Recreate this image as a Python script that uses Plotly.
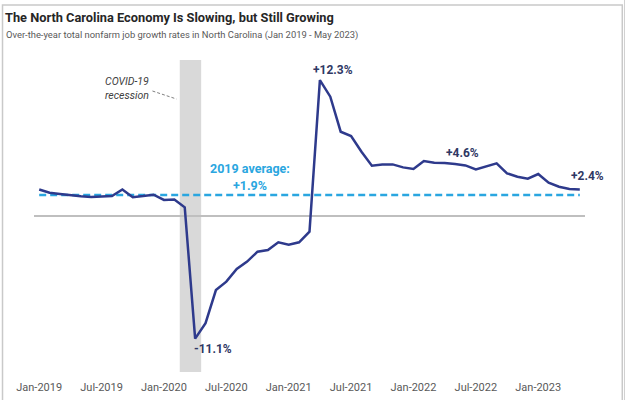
import pandas as pd
import plotly.graph_objects as go

# ---------------- data ----------------
months = list(pd.date_range("2019-01-01", "2023-05-01", freq="MS").strftime("%b-%Y"))
job_growth = [
    2.4, 2.1, 2.0, 1.87, 1.78, 1.72, 1.78, 1.8, 2.4, 1.7, 1.8, 1.93,      # 2019
    1.45, 1.5, 0.78, -11.1, -9.7, -6.7, -5.94, -4.8, -4.13, -3.23, -3.08, -2.38,  # 2020
    -2.6, -2.38, -1.42, 12.3, 10.8, 7.63, 7.24, 5.82, 4.55, 4.67, 4.67, 4.4,   # 2021
    4.25, 4.98, 4.83, 4.8, 4.7, 4.58, 4.22, 4.52, 4.77, 3.86, 3.56, 3.38,      # 2022
    3.8, 3.02, 2.65, 2.44, 2.4,                                            # 2023
]
avg_2019 = 1.9
tick_idx = list(range(0, 48 + 1, 6))
tick_labels = [months[i] for i in tick_idx]
recession_start, recession_end = 13.52, 15.58   # category positions (mid Feb 2020 - mid Apr 2020)
callouts = [  # (index, text, xshift, yshift)
    (27, "+12.3%", 13, 10),
    (15, "-11.1%", 18, -10),
    (41, "+4.6%", -3, 12),
    (52, "+2.4%", 8, 13),
]

# ---------------- layout geometry ----------------
W, H = 625, 400
L, R, T, B = 33.5, 584.7, 60, 372
def px(xp):
    return (xp - L) / (R - L)
def py(yp):
    return (B - yp) / (B - T)

FONT = "Roboto, Arial, sans-serif"
NAVY = "#2E3A8C"
LBLUE = "#2AA6E0"
LABEL = "#2F3864"

fig = go.Figure()
fig.add_trace(go.Scatter(x=months, y=[avg_2019] * len(months), mode="lines",
                         line=dict(color=LBLUE, width=2.5, dash="7px,4px"),
                         hoverinfo="skip", showlegend=False))
fig.add_trace(go.Scatter(x=months, y=job_growth, mode="lines",
                         line=dict(color=NAVY, width=2.5), showlegend=False))

shapes = [
    dict(type="rect", xref="x", yref="paper", x0=recession_start, x1=recession_end,
         y0=0, y1=1, fillcolor="#D9D9D9", line=dict(width=0), layer="below"),
    # chart frame
    dict(type="rect", xref="paper", yref="paper", x0=px(2), x1=px(622), y0=py(5), y1=py(410),
         line=dict(color="#C9C9C9", width=1.5), fillcolor="rgba(0,0,0,0)"),
    dict(type="line", xref="paper", yref="paper", x0=px(624.5), x1=px(624.5), y0=py(0), y1=py(410),
         line=dict(color="#D0D0D0", width=1.5)),
    # leader line for recession note
    dict(type="line", xref="paper", yref="paper", x0=px(152), y0=py(91), x1=px(176), y1=py(99),
         line=dict(color="#7F7F7F", width=1, dash="3px,2px")),
]

annotations = [
    dict(xref="paper", yref="paper", x=px(2), y=py(17), xanchor="left", yanchor="middle",
         text="<b>The North Carolina Economy Is Slowing, but Still Growing</b>", showarrow=False,
         font=dict(family=FONT, size=12.8, color="#262626")),
    dict(xref="paper", yref="paper", x=px(3), y=py(35), xanchor="left", yanchor="middle",
         text="Over-the-year total nonfarm job growth rates in North Carolina (Jan 2019 - May 2023)",
         showarrow=False, font=dict(family=FONT, size=9.4, color="#595959")),
    dict(xref="paper", yref="paper", x=px(127), y=py(88.5), xanchor="center", yanchor="middle",
         text="<i>COVID-19<br>recession</i>", showarrow=False,
         font=dict(family=FONT, size=10.5, color="#404040")),
    dict(xref="paper", yref="paper", x=px(250), y=py(168), xanchor="center", yanchor="middle",
         text="<b>2019 average:</b>", showarrow=False,
         font=dict(family=FONT, size=12.5, color=LBLUE)),
    dict(xref="paper", yref="paper", x=px(250), y=py(185), xanchor="center", yanchor="middle",
         text="<b>+1.9%</b>", showarrow=False,
         font=dict(family=FONT, size=12.5, color=LBLUE)),
]
for i, txt, xs, ys in callouts:
    annotations.append(dict(x=months[i], y=job_growth[i], xref="x", yref="y", text="<b>%s</b>" % txt,
                            showarrow=False, xshift=xs, yshift=ys, xanchor="center", yanchor="middle",
                            font=dict(family=FONT, size=12, color=LABEL)))

fig.update_layout(
    width=W, height=H,
    margin=dict(l=L, r=W - R, t=T, b=H - B, pad=0, autoexpand=False),
    paper_bgcolor="white", plot_bgcolor="white",
    font=dict(family=FONT),
    shapes=shapes, annotations=annotations,
    xaxis=dict(type="category", range=[-0.5, len(months) - 0.5], showgrid=False, showline=False,
               zeroline=False, tickmode="array", tickvals=tick_labels, ticktext=tick_labels,
               ticks="outside", ticklen=5, tickcolor="rgba(0,0,0,0)", automargin=False,
               tickfont=dict(family=FONT, size=11, color="#595959"), fixedrange=True),
    yaxis=dict(range=[-14.12, 14.12], showgrid=False, showticklabels=False, showline=False,
               zeroline=True, zerolinecolor="#BFBFBF", zerolinewidth=1.5, fixedrange=True,
               automargin=False),
    hovermode=False,
)
fig.write_html("out.html", config={"displayModeBar": False},
               post_script="document.body.style.margin='0';document.body.style.overflow='hidden';")
